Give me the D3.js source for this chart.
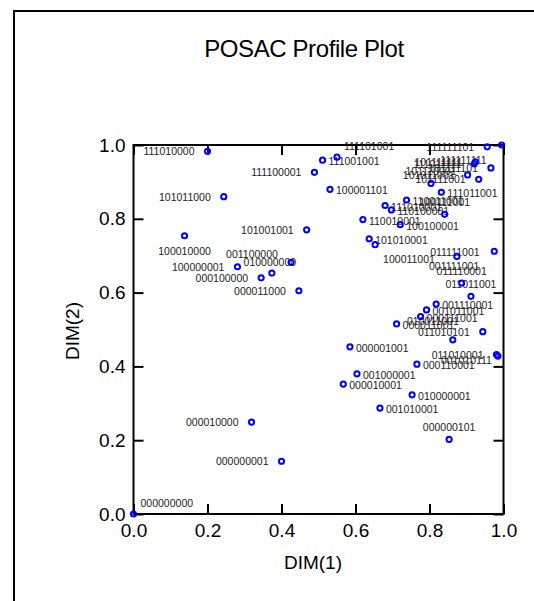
<!DOCTYPE html>
<html>
<head>
<meta charset="utf-8">
<script src="https://cdn.jsdelivr.net/npm/d3@7"></script>
<style>
  body { margin: 0; background: #fff; }
  text { font-family: "Liberation Sans", Arial, sans-serif; }
</style>
</head>
<body>
<div id="chart"></div>
<script>
// profile labels, DIM(1), DIM(2) and where each label sits relative to its point
const profiles = [
  "000000000", "000000001", "000010000", "000000101", "001010001", "010000001",
  "000010001", "001000001", "000001001", "000110001", "011010001", "001010111",
  "011010101", "010011001", "000011001", "000111001", "001011001", "001110001",
  "011011001", "011110001", "001111001", "011111001",
  "111010000", "101011000", "100010000", "100000001", "001100000", "010000000",
  "000100000", "000011000", "101001001", "111100001", "111001001", "111101001",
  "100001101", "110010001", "101010001", "100011001", "100100001", "111010001",
  "110100001", "110011001", "100111001", "111011001", "101110001", "101011001",
  "101111001", "101111111", "101111101", "111011111", "111111101", "111111111"
];
const dim1 = [
  0.000, 0.400, 0.319, 0.853, 0.666, 0.753,
  0.567, 0.604, 0.585, 0.766, 0.981, 0.985,
  0.944, 0.863, 0.711, 0.776, 0.792, 0.818,
  0.912, 0.887, 0.975, 0.874,
  0.200, 0.244, 0.138, 0.281, 0.374, 0.426,
  0.345, 0.447, 0.468, 0.489, 0.511, 0.550,
  0.531, 0.620, 0.637, 0.653, 0.721, 0.680,
  0.697, 0.738, 0.841, 0.832, 0.804, 0.903,
  0.933, 0.924, 0.966, 0.921, 0.956, 0.995
];
const dim2 = [
  0.000, 0.143, 0.249, 0.202, 0.287, 0.323,
  0.352, 0.380, 0.453, 0.406, 0.432, 0.428,
  0.494, 0.472, 0.515, 0.535, 0.553, 0.569,
  0.590, 0.626, 0.712, 0.698,
  0.983, 0.860, 0.754, 0.670, 0.653, 0.682,
  0.640, 0.605, 0.770, 0.926, 0.959, 0.967,
  0.880, 0.798, 0.746, 0.730, 0.784, 0.836,
  0.824, 0.851, 0.812, 0.872, 0.896, 0.919,
  0.907, 0.954, 0.938, 0.949, 0.995, 1.000
];
const labelSide = [
  "AR", "L", "L", "A", "R", "R",
  "R", "R", "R", "R", "L", "LL",
  "L", "AL", "R", "R", "R", "R",
  "A", "A", "BL", "C",
  "L", "L", "B", "L", "AL", "LO",
  "L", "L", "L", "L", "R", "AR",
  "R", "R", "R", "BR", "R", "R",
  "R", "R", "A", "R", "A", "L",
  "L", "L", "L", "L", "L", "BL"
];
const xTicks = [0, 0.2, 0.4, 0.6, 0.8, 1.0];
const yTicks = [0, 0.2, 0.4, 0.6, 0.8, 1.0];

const width = 534, height = 601;
const plot = { left: 133.5, right: 503.5, top: 145, bottom: 514 };

const points = profiles.map((p, i) => ({ profile: p, x: dim1[i], y: dim2[i], side: labelSide[i] }));

const x = d3.scaleLinear().domain([0, 1]).range([plot.left, plot.right]);
const y = d3.scaleLinear().domain([0, 1]).range([plot.bottom, plot.top]);

// label offsets per side code: [anchor, dx, dy]
const placement = {
  L: ["end", -13, 4],
  LL: ["end", -6, 8],
  LO: ["end", 5, 4],
  R: ["start", 6, 5],
  A: ["middle", 0, -8],
  B: ["middle", 0, 19],
  C: ["middle", -2, 0],
  AL: ["end", 6, -15],
  AR: ["start", 7, -7],
  BL: ["end", -15, 19],
  BR: ["start", 8, 18]
};

const svg = d3.select("#chart")
  .append("svg")
  .attr("width", width)
  .attr("height", height);

svg.append("rect")
  .attr("x", 14)
  .attr("y", 11)
  .attr("width", 700)
  .attr("height", 800)
  .attr("fill", "none")
  .attr("stroke", "#000")
  .attr("stroke-width", 2);

svg.append("text")
  .attr("x", 304)
  .attr("y", 57)
  .attr("text-anchor", "middle")
  .attr("font-size", 24)
  .attr("letter-spacing", -0.4)
  .text("POSAC Profile Plot");

const tickFont = 19;

svg.append("g")
  .attr("transform", `translate(0,${plot.bottom})`)
  .call(d3.axisBottom(x).tickValues(xTicks).tickFormat(d3.format(".1f"))
    .tickSizeInner(-10).tickSizeOuter(0).tickPadding(10))
  .call(g => g.selectAll("text").attr("font-size", tickFont).attr("fill", "#000")
    .style("font-family", "Liberation Sans, Arial, sans-serif"));

svg.append("g")
  .attr("transform", `translate(${plot.left},0)`)
  .call(d3.axisLeft(y).tickValues(yTicks).tickFormat(d3.format(".1f"))
    .tickSizeInner(-10).tickSizeOuter(0).tickPadding(8))
  .call(g => g.selectAll("text").attr("font-size", tickFont).attr("fill", "#000")
    .style("font-family", "Liberation Sans, Arial, sans-serif"));

svg.append("g")
  .attr("transform", `translate(0,${plot.top})`)
  .call(d3.axisTop(x).tickValues(xTicks).tickFormat("").tickSizeInner(-10).tickSizeOuter(0));

svg.append("g")
  .attr("transform", `translate(${plot.right},0)`)
  .call(d3.axisRight(y).tickValues(yTicks).tickFormat("").tickSizeInner(-10).tickSizeOuter(0));

svg.selectAll(".tick line").attr("stroke", "#000").attr("stroke-width", 2);
svg.selectAll(".domain").remove();

svg.append("rect")
  .attr("x", plot.left)
  .attr("y", plot.top)
  .attr("width", plot.right - plot.left)
  .attr("height", plot.bottom - plot.top)
  .attr("fill", "none")
  .attr("stroke", "#000")
  .attr("stroke-width", 2);

svg.append("text")
  .attr("x", 313)
  .attr("y", 569)
  .attr("text-anchor", "middle")
  .attr("font-size", 19)
  .text("DIM(1)");

svg.append("text")
  .attr("transform", "translate(79,331) rotate(-90)")
  .attr("text-anchor", "middle")
  .attr("font-size", 19)
  .text("DIM(2)");

svg.append("g")
  .selectAll("text")
  .data(points)
  .enter()
  .append("text")
  .attr("x", d => x(d.x) + placement[d.side][1])
  .attr("y", d => y(d.y) + placement[d.side][2])
  .attr("text-anchor", d => placement[d.side][0])
  .attr("font-size", 10.5)
  .attr("fill", "#222")
  .text(d => d.profile);

svg.append("g")
  .selectAll("circle")
  .data(points)
  .enter()
  .append("circle")
  .attr("cx", d => x(d.x))
  .attr("cy", d => y(d.y))
  .attr("r", 2.6)
  .attr("fill", "none")
  .attr("stroke", "#0000ff")
  .attr("stroke-width", 2);
</script>
</body>
</html>
